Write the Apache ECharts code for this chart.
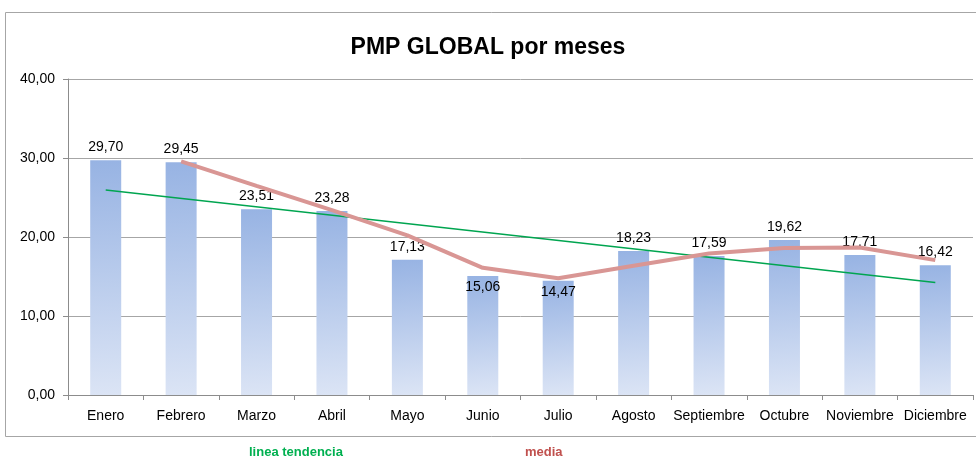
<!DOCTYPE html>
<html>
<head>
<meta charset="utf-8">
<script src="https://cdn.jsdelivr.net/npm/echarts@6/dist/echarts.min.js"></script>
<style>
  html, body { margin: 0; padding: 0; background: #fff; }
  #chart { width: 976px; height: 457px; }
</style>
</head>
<body>
<div id="chart"></div>
<script>
// months on the x axis
const months = ["Enero", "Febrero", "Marzo", "Abril", "Mayo", "Junio", "Julio",
  "Agosto", "Septiembre", "Octubre", "Noviembre", "Diciembre"];
// PMP per month (bars)
const pmp = [29.70, 29.45, 23.51, 23.28, 17.13, 15.06, 14.47, 18.23, 17.59, 19.62, 17.71, 16.42];
// moving average line (starts at Febrero)
const media = ["-", 29.58, 26.48, 23.40, 20.21, 16.10, 14.77, 16.35, 17.91, 18.61, 18.67, 17.07];
// straight trend line, first and last month
const trend = [["Enero", 25.95], ["Diciembre", 14.25]];
const yTicks = { min: 0, max: 40, interval: 10 };

const fmt = (v) => Number(v).toFixed(2).replace(".", ",");
const font = "Liberation Sans, Arial, sans-serif";

// Junio and Julio have their labels drawn inside the bar (as in the original)
const insideMonths = ["Junio", "Julio"];
const barData = pmp.map((v, i) =>
  insideMonths.includes(months[i])
    ? { value: v, label: { position: "insideTop", distance: 4 } }
    : v
);

const chart = echarts.init(document.getElementById("chart"));

const option = {
  animation: false,
  textStyle: { fontFamily: font },
  title: {
    text: "PMP GLOBAL por meses",
    left: "center",
    top: 31,
    textStyle: {
      fontFamily: font,
      fontWeight: "bold",
      fontSize: 23,
      color: "#000"
    }
  },
  grid: { left: 68, right: 3, top: 79, bottom: 62 },
  xAxis: {
    type: "category",
    data: months,
    axisLine: { lineStyle: { color: "#8c8c8c", width: 1 } },
    axisTick: { show: true, length: 5, lineStyle: { color: "#8c8c8c" } },
    axisLabel: { color: "#000", fontSize: 14, margin: 14, fontFamily: font, interval: 0 }
  },
  yAxis: {
    type: "value",
    min: yTicks.min,
    max: yTicks.max,
    interval: yTicks.interval,
    axisLine: { show: true, lineStyle: { color: "#8c8c8c" } },
    axisTick: { show: true, length: 5, lineStyle: { color: "#8c8c8c" } },
    splitLine: { lineStyle: { color: "#a6a6a6", width: 1 } },
    axisLabel: { color: "#000", fontSize: 14, margin: 13, fontFamily: font, formatter: fmt }
  },
  graphic: [
    {
      type: "rect",
      shape: { x: 5.5, y: 12.5, width: 1000, height: 424 },
      style: { fill: "none", stroke: "#a6a6a6", lineWidth: 1 },
      z: -1
    },
    {
      type: "text",
      left: 249,
      top: 446,
      style: { text: "linea tendencia", fill: "#00b050", font: "bold 13px " + font }
    },
    {
      type: "text",
      left: 525,
      top: 446,
      style: { text: "media", fill: "#c0504d", font: "bold 13px " + font }
    }
  ],
  series: [
    {
      name: "PMP",
      type: "bar",
      data: barData,
      barWidth: 31,
      itemStyle: {
        color: new echarts.graphic.LinearGradient(0, 0, 0.35, 1, [
          { offset: 0, color: "#97b3e3" },
          { offset: 1, color: "#dbe4f5" }
        ])
      },
      label: {
        show: true,
        position: "top",
        distance: 6,
        color: "#000",
        fontSize: 14,
        fontFamily: font,
        formatter: (p) => fmt(p.value)
      },
      z: 2
    },
    {
      name: "linea tendencia",
      type: "line",
      data: trend,
      symbol: "none",
      lineStyle: { color: "#00a550", width: 1.6 },
      z: 3
    },
    {
      name: "media",
      type: "line",
      data: media,
      symbol: "none",
      lineStyle: { color: "#d99694", width: 4 },
      z: 4
    }
  ]
};

chart.setOption(option);
</script>
</body>
</html>
